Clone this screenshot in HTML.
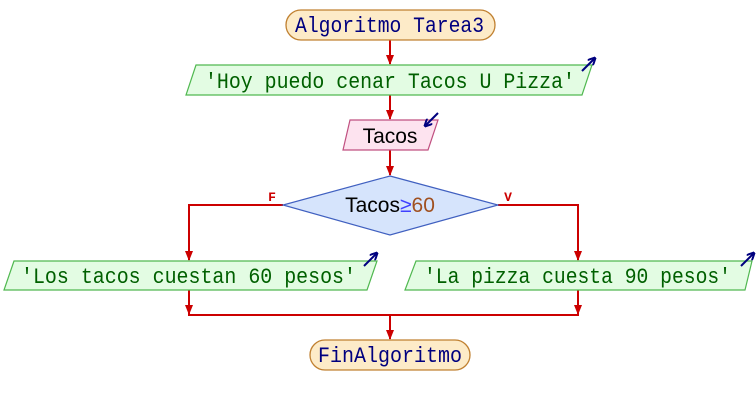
<!DOCTYPE html>
<html><head><meta charset="utf-8"><style>
html,body{margin:0;padding:0;background:#fff;width:756px;height:405px;overflow:hidden}
text{font-family:"Liberation Mono","DejaVu Sans Mono",monospace;font-size:22px}
</style></head><body>
<svg width="756" height="405" viewBox="0 0 756 405" xmlns="http://www.w3.org/2000/svg">
<defs>
<marker id="ah" markerWidth="10" markerHeight="8" refX="9" refY="4" orient="auto" markerUnits="userSpaceOnUse">
<path d="M0,0 L10,4 L0,8 z" fill="#cc0000"/></marker>
<marker id="bh" markerWidth="8" markerHeight="8" refX="7" refY="4" orient="auto" markerUnits="userSpaceOnUse">
<path d="M0,0 L8,4 L0,8" fill="none" stroke="#00007f" stroke-width="2"/></marker>
</defs>
<g stroke="#cc0000" stroke-width="2" fill="none">
<line x1="390" y1="40" x2="390" y2="64" marker-end="url(#ah)"/>
<line x1="390" y1="95" x2="390" y2="119" marker-end="url(#ah)"/>
<line x1="390" y1="150" x2="390" y2="175" marker-end="url(#ah)"/>
<polyline points="283,205 189,205 189,260" marker-end="url(#ah)"/>
<polyline points="498,205 578,205 578,260" marker-end="url(#ah)"/>
<line x1="189" y1="290" x2="189" y2="314" marker-end="url(#ah)"/>
<line x1="578" y1="290" x2="578" y2="314" marker-end="url(#ah)"/>
<line x1="188" y1="315" x2="579" y2="315"/>
<line x1="390" y1="315" x2="390" y2="339" marker-end="url(#ah)"/>
</g>
<rect x="286" y="10" width="209" height="30" rx="15" fill="#fdebc8" stroke="#c08030" stroke-width="1.3"/>
<text x="295" y="32" textLength="189" lengthAdjust="spacingAndGlyphs" fill="#00007f">Algoritmo Tarea3</text>
<polygon points="196,65 592,65 582,95 186,95" fill="#e3fce3" stroke="#50b850" stroke-width="1.2"/>
<text x="205" y="88" textLength="370" lengthAdjust="spacingAndGlyphs" fill="#006000">'Hoy puedo cenar Tacos U Pizza'</text>
<line x1="582" y1="71" x2="595" y2="58" stroke="#00007f" stroke-width="2" marker-end="url(#bh)"/>
<polygon points="350,120 438,120 428,150 343,150" fill="#fde3ef" stroke="#c05080" stroke-width="1.2"/>
<text x="390" y="143" text-anchor="middle" fill="#000" style="font-family:'Liberation Sans','DejaVu Sans',sans-serif;font-size:21px">Tacos</text>
<line x1="438" y1="113" x2="425" y2="126" stroke="#00007f" stroke-width="2" marker-end="url(#bh)"/>
<polygon points="390,176 498,205 390,235 283,205" fill="#d6e4fc" stroke="#4060c0" stroke-width="1.2"/>
<text x="390" y="212" text-anchor="middle" style="font-family:'Liberation Sans','DejaVu Sans',sans-serif;font-size:21px"><tspan fill="#000">Tacos</tspan><tspan fill="#4040ff">≥</tspan><tspan fill="#a05020">60</tspan></text>
<text x="272" y="201" text-anchor="middle" fill="#cc0000" style="font-size:13px;font-weight:bold">F</text>
<text x="508" y="201" text-anchor="middle" fill="#cc0000" style="font-size:13px;font-weight:bold">V</text>
<polygon points="14,261 377,261 367,290 4,290" fill="#e3fce3" stroke="#50b850" stroke-width="1.2"/>
<text x="21" y="283" textLength="335" lengthAdjust="spacingAndGlyphs" fill="#006000">'Los tacos cuestan 60 pesos'</text>
<line x1="364" y1="266" x2="377" y2="253" stroke="#00007f" stroke-width="2" marker-end="url(#bh)"/>
<polygon points="416,261 752,261 745,290 405,290" fill="#e3fce3" stroke="#50b850" stroke-width="1.2"/>
<text x="424" y="283" textLength="307" lengthAdjust="spacingAndGlyphs" fill="#006000">'La pizza cuesta 90 pesos'</text>
<line x1="741" y1="266" x2="754" y2="253" stroke="#00007f" stroke-width="2" marker-end="url(#bh)"/>
<rect x="310" y="340" width="160" height="30" rx="15" fill="#fdebc8" stroke="#c08030" stroke-width="1.3"/>
<text x="318" y="362" textLength="144" lengthAdjust="spacingAndGlyphs" fill="#00007f">FinAlgoritmo</text>
</svg>
</body></html>
